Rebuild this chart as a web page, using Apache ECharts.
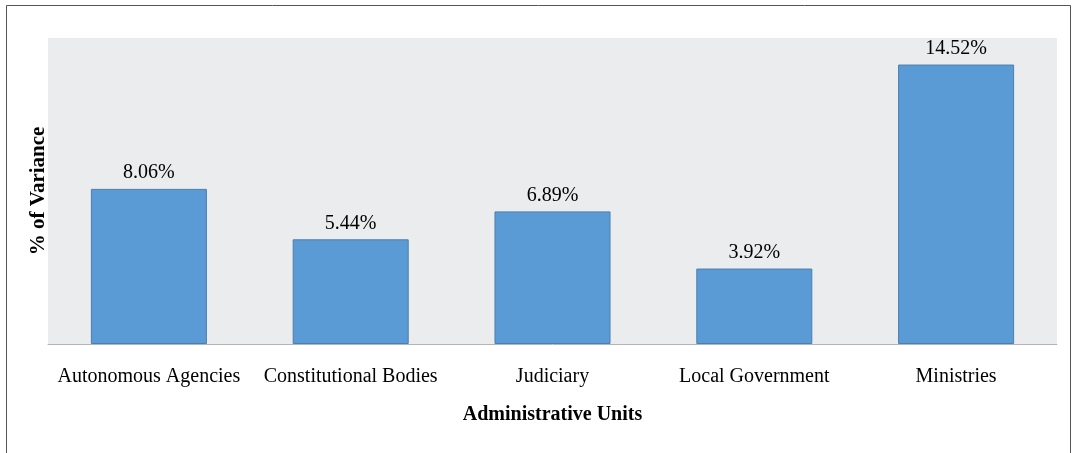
<!DOCTYPE html>
<html>
<head>
<meta charset="utf-8">
<script src="https://cdn.jsdelivr.net/npm/echarts@6/dist/echarts.min.js"></script>
<style>
html, body { margin: 0; padding: 0; background: #fff; }
#main { width: 1072px; height: 453px; }
</style>
</head>
<body>
<div id="main"></div>
<script>
var categories = ['Autonomous Agencies', 'Constitutional Bodies', 'Judiciary', 'Local Government', 'Ministries']
var variance = [8.06, 5.44, 6.89, 3.92, 14.52]

var serif = '"Liberation Serif", "Times New Roman", serif'

var chart = echarts.init(document.getElementById('main'))
chart.setOption({
  animation: false,
  textStyle: { fontFamily: serif },
  graphic: [
    {
      type: 'rect',
      shape: { x: 6.5, y: 5.5, width: 1064, height: 470 },
      style: { fill: 'none', stroke: '#555', lineWidth: 1 },
      silent: true
    }
  ],
  grid: {
    left: 48,
    right: 15,
    top: 38,
    bottom: 109,
    show: true,
    backgroundColor: '#ebecee',
    borderWidth: 0
  },
  xAxis: {
    type: 'category',
    data: categories,
    axisLine: { lineStyle: { color: '#b4b4b4', width: 1 } },
    axisTick: { show: false },
    axisLabel: { color: '#000', fontSize: 20, fontFamily: serif, margin: 23, interval: 0 },
    name: 'Administrative Units',
    nameLocation: 'middle',
    nameGap: 61,
    nameTextStyle: { color: '#000', fontSize: 20, fontWeight: 'bold', fontFamily: serif }
  },
  yAxis: {
    type: 'value',
    min: 0,
    max: 15.9,
    axisLine: { show: false },
    axisTick: { show: false },
    axisLabel: { show: false },
    splitLine: { show: false },
    name: '% of Variance',
    nameLocation: 'middle',
    nameGap: -1,
    nameRotate: 90,
    nameTextStyle: { color: '#000', fontSize: 21, fontWeight: 'bold', fontFamily: serif }
  },
  series: [
    {
      type: 'bar',
      data: variance,
      barWidth: '57.5%',
      itemStyle: { color: '#5b9bd5', borderColor: '#4a7fb0', borderWidth: 1 },
      label: {
        show: true,
        position: 'top',
        distance: 6,
        color: '#000',
        fontSize: 20,
        fontFamily: serif,
        formatter: function (p) { return p.value.toFixed(2) + '%' }
      }
    }
  ]
})
</script>
</body>
</html>
